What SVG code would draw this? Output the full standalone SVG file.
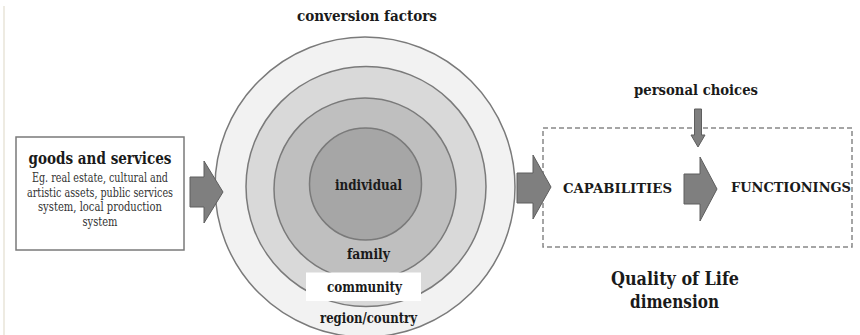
<svg xmlns="http://www.w3.org/2000/svg" width="860" height="335" viewBox="0 0 860 335">
<style>
  .t { font-family: 'DejaVu Serif', 'Liberation Serif', serif; fill: #1a1a1a; }
  .b { font-weight: bold; }
  .ring { stroke: #7a7a7a; stroke-width: 1.5; }
  .arrow { fill: #7f7f7f; stroke: #5e5e5e; stroke-width: 1; }
  .sub { font-size: 12px; fill: #333333; }
</style>
<rect x="0" y="0" width="860" height="335" fill="#ffffff"/>
<rect x="3" y="6" width="2" height="329" fill="#eeebe2"/>

<g id="goods-and-services">
  <rect x="16" y="137" width="168" height="113" fill="#ffffff" stroke="#7a7a7a" stroke-width="1.5"/>
  <text class="t b" x="100" y="164" font-size="17" text-anchor="middle" textLength="143" lengthAdjust="spacingAndGlyphs">goods and services</text>
  <text class="t sub" x="100" y="182" text-anchor="middle" textLength="136" lengthAdjust="spacingAndGlyphs">Eg. real estate, cultural and</text>
  <text class="t sub" x="100" y="196.5" text-anchor="middle" textLength="146" lengthAdjust="spacingAndGlyphs">artistic assets, public services</text>
  <text class="t sub" x="100" y="211" text-anchor="middle" textLength="124" lengthAdjust="spacingAndGlyphs">system, local production</text>
  <text class="t sub" x="100" y="225.5" text-anchor="middle" textLength="35" lengthAdjust="spacingAndGlyphs">system</text>
</g>

<g id="conversion-factors">
  <text class="t b" x="367" y="21" font-size="15" text-anchor="middle" textLength="140" lengthAdjust="spacingAndGlyphs">conversion factors</text>
  <circle class="ring" cx="365" cy="187" r="150" fill="#f2f2f2"/>
  <circle class="ring" cx="366" cy="186.5" r="120" fill="#d9d9d9"/>
  <circle class="ring" cx="365" cy="189" r="91" fill="#bfbfbf"/>
  <circle class="ring" cx="365.5" cy="184" r="56" fill="#a6a6a6"/>
  <rect x="306" y="272.5" width="115" height="28.5" fill="#ffffff"/>
  <text class="t b" x="368.5" y="190" font-size="14" text-anchor="middle" textLength="67" lengthAdjust="spacingAndGlyphs">individual</text>
  <text class="t b" x="368.5" y="259" font-size="14" text-anchor="middle" textLength="43" lengthAdjust="spacingAndGlyphs">family</text>
  <text class="t b" x="364.5" y="292" font-size="14" text-anchor="middle" textLength="75" lengthAdjust="spacingAndGlyphs">community</text>
  <text class="t b" x="368.5" y="323" font-size="14" text-anchor="middle" textLength="97" lengthAdjust="spacingAndGlyphs">region/country</text>
</g>

<g id="quality-of-life">
  <rect x="543" y="128" width="309" height="119" fill="none" stroke="#888888" stroke-width="1.5" stroke-dasharray="5,3"/>
  <text class="t b" x="675" y="285" font-size="19" text-anchor="middle" textLength="128" lengthAdjust="spacingAndGlyphs">Quality of Life</text>
  <text class="t b" x="674.5" y="308" font-size="19" text-anchor="middle" textLength="89" lengthAdjust="spacingAndGlyphs">dimension</text>
</g>

<g id="capabilities">
  <text class="t b" x="563" y="193" font-size="13" textLength="109" lengthAdjust="spacingAndGlyphs">CAPABILITIES</text>
</g>

<g id="functionings">
  <text class="t b" x="731" y="192" font-size="13" textLength="120" lengthAdjust="spacingAndGlyphs">FUNCTIONINGS</text>
</g>

<g id="personal-choices">
  <text class="t b" x="696" y="95" font-size="14" text-anchor="middle" textLength="124" lengthAdjust="spacingAndGlyphs">personal choices</text>
</g>

<g id="connectors">
  <polygon class="arrow" points="190,177 204,177 204,161 223,192 204,223 204,207 190,207"/>
  <polygon class="arrow" points="517,173 533,173 533,155 551,187 533,219 533,203 517,203"/>
  <polygon class="arrow" points="684,174 700,174 700,157 717,189 700,221 700,204 684,204"/>
  <polygon class="arrow" points="694.5,109 701.5,109 701.5,135 705,135 698,147 691,135 694.5,135" fill="#666666"/>
</g>
</svg>
